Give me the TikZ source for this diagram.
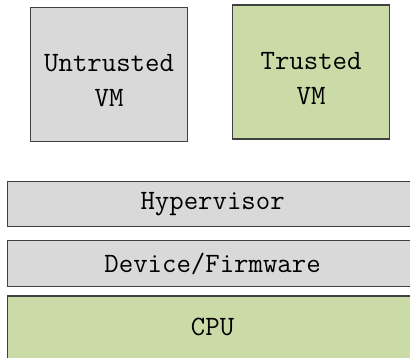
\documentclass[tikz,border=0pt]{standalone}
\usetikzlibrary{positioning}
\definecolor{boxgray}{HTML}{D9D9D9}
\definecolor{boxgreen}{HTML}{CBDBA8}
\definecolor{edge}{HTML}{404040}
\tikzset{
  layer/.style={draw=edge, line width=1.2pt, rectangle, inner sep=0pt, anchor=north west,
     font=\fontsize{28}{35}\selectfont\ttfamily, align=center},
  grayfill/.style={fill=boxgray},
  greenfill/.style={fill=boxgreen}
}
\newcommand{\downpad}{\rule{0pt}{30pt}}
\begin{document}
\begin{tikzpicture}[x=1pt,y=1pt]
\useasboundingbox (0,0) rectangle (410,-358);
\node[layer, grayfill, minimum width=157pt, minimum height=134pt] (untr) at (30,-7) {\downpad Untrusted\\VM};
\node[layer, greenfill, minimum width=157pt, minimum height=134pt] (tr) at (232,-4.5) {\downpad Trusted\\VM};
\node[layer, grayfill, minimum width=410pt, minimum height=45pt] (hyp) at (7,-181) {Hypervisor};
\node[layer, grayfill, minimum width=410pt, minimum height=46pt] (dev) at (7,-240) {Device/Firmware};
\node[layer, greenfill, minimum width=410pt, minimum height=62pt] (cpu) at (7,-295.5) {CPU};
\end{tikzpicture}
\end{document}
